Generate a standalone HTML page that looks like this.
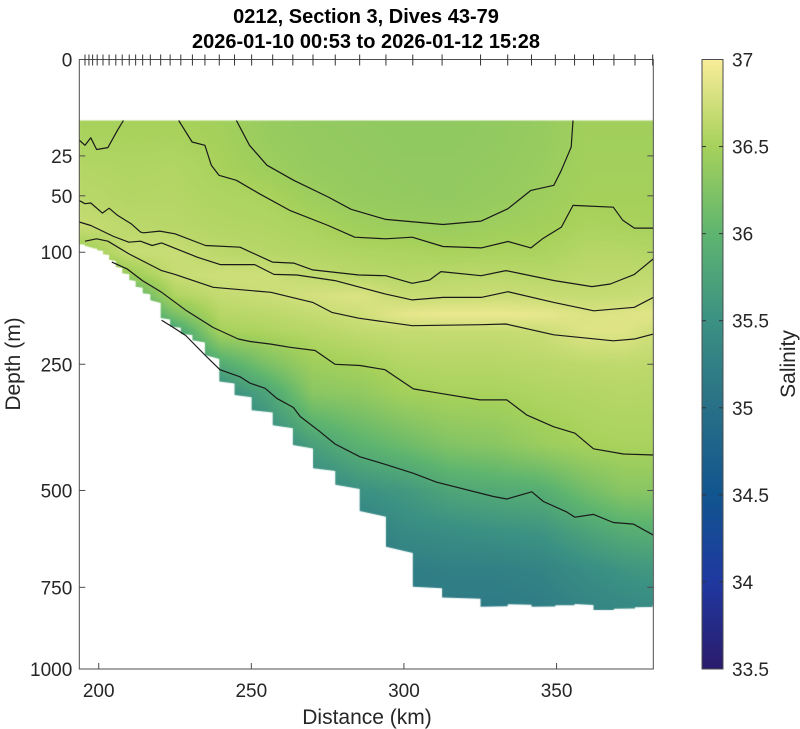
<!DOCTYPE html>
<html><head><meta charset="utf-8">
<style>
html,body{margin:0;padding:0;background:#fff;}
#wrap{position:relative;width:800px;height:729px;overflow:hidden;font-family:"Liberation Sans",sans-serif;}
canvas,svg{position:absolute;left:0;top:0;}
</style></head>
<body>
<div id="wrap">
<canvas id="field" width="800" height="729"></canvas>
<svg id="svg" width="800" height="729" xmlns="http://www.w3.org/2000/svg"></svg>
</div>
<script>
// ---- data ----
const diveKm = [195.5,196.8,198.0,199.5,201.4,203.4,205.6,207.7,210.0,212.1,214.4,216.9,220.3,223.4,226.9,230.7,234.8,239.5,244.5,250.1,257.0,263.6,270.2,277.5,285.5,294.1,302.9,312.5,325.1,334.0,341.8,349.6,355.9,362.1,368.8,375.7,381.5];
const diveBottom = [94,95,96,98,102,108,116,123,131,139,147,156,180,192,203,212,235,279,303,331,360,400,450,487,549,639,748,779,806,799,806,802,798,816,812,808,800];
const gridKm = [193.6,210,225,240,255,270,285,300,315,330,345,360,372,381.7];
const gridDepth = [10,30,50,75,100,125,150,175,200,250,300,400,500,600,700,820];
const salinity = [
 [36.50,36.58,36.62,36.71,36.40,36.00,35.60,35.40,35.30,35.20,35.10,35.10,35.10,35.10,35.10,35.10],
 [36.50,36.56,36.58,36.63,36.71,36.42,35.90,35.60,35.40,35.25,35.15,35.10,35.10,35.10,35.10,35.10],
 [36.50,36.57,36.59,36.61,36.71,36.70,36.56,36.20,35.70,35.35,35.20,35.10,35.10,35.10,35.10,35.10],
 [36.48,36.51,36.55,36.58,36.63,36.74,36.68,36.60,36.50,35.85,35.40,35.20,35.10,35.10,35.10,35.10],
 [36.40,36.44,36.53,36.57,36.60,36.74,36.72,36.63,36.55,36.20,35.75,35.30,35.20,35.10,35.10,35.10],
 [36.37,36.39,36.44,36.53,36.58,36.66,36.78,36.68,36.60,36.45,36.30,35.70,35.30,35.20,35.15,35.10],
 [36.36,36.37,36.39,36.46,36.56,36.62,36.82,36.74,36.66,36.50,36.35,35.95,35.50,35.20,35.15,35.10],
 [36.35,36.36,36.37,36.43,36.54,36.60,36.70,36.88,36.68,36.58,36.48,36.10,35.60,35.40,35.20,35.15],
 [36.35,36.36,36.36,36.42,36.52,36.62,36.70,36.92,36.68,36.60,36.52,36.25,35.78,35.45,35.25,35.15],
 [36.36,36.37,36.39,36.45,36.53,36.63,36.72,36.92,36.68,36.60,36.52,36.30,35.85,35.50,35.25,35.15],
 [36.39,36.41,36.44,36.48,36.53,36.61,36.70,36.90,36.71,36.62,36.56,36.42,35.90,35.55,35.30,35.20],
 [36.47,36.48,36.49,36.53,36.60,36.64,36.68,36.82,36.84,36.64,36.58,36.50,36.15,35.75,35.45,35.30],
 [36.47,36.48,36.49,36.52,36.60,36.64,36.70,36.84,36.84,36.65,36.60,36.52,36.30,35.88,35.55,35.35],
 [36.47,36.48,36.49,36.51,36.58,36.66,36.72,36.86,36.74,36.64,36.59,36.52,36.30,35.92,35.60,35.40]
];
// contour lines: km and depth arrays
const cL_km = [193.6,195.5,197.4,199.3,203.0,206.2,208.1];
const cL_d  = [17.5,19.8,16.5,21.8,20.9,13.4,10];
const cA_km = [245.1,249.4,255.1,263.9,275.2,282.7,294.0,312.8,325.3,334.1,341.6,349.1,351.6,354.8,355.4];
const cA_d  = [10,19.8,30.1,39.3,50.9,60.4,68.8,73.3,70.3,59.9,46.1,42.6,33,20.6,10];
const cB_km = [226.2,230.6,234.8,236.9,239.4,245.1,252.6,262.6,275.2,283.9,294.0,302.7,312.8,325.3,334.1,341.6,345.4,351.6,355.4,368.6,371.7,375.5,381.7];
const cB_d  = [10,18.3,19.8,30.1,36.1,39.3,48.5,61.3,74.2,85,86.5,85,94.1,95.5,89.2,95.5,86.5,75.6,57.3,58.7,69.6,76.5,76.5];
const cC_km = [193.6,195.5,197.4,201.2,203.4,206.2,210.6,213.7,214.7,220.0,225.0,235.0,246.3,256.9,263.9,270.1,285.2,294.0,302.7,308.4,312.1,325.3,333.4,349.3,361.6,367.6,375.5,381.7];
const cC_d  = [53.5,56,55.4,63.5,59.5,65.4,72.6,80.2,80.8,79.3,81.8,93.1,94.8,110.5,111.6,119.2,125,125.8,134.8,130.9,121.1,125.8,120,131.6,138.8,135.7,124.3,107];
const cD_km = [193.6,197.4,204.9,209.9,213.7,217.5,220.6,232.4,239.8,251.1,257.4,264.9,277.4,294.0,302.7,312.8,325.3,334.1,349.1,362.2,375.5,381.7];
const cD_d  = [71.1,74.2,84.3,89.9,88.9,93.1,90.5,105.3,113.2,113.2,124.3,125,131.6,148.2,155.6,152.3,152.3,145.1,158.8,170,165.3,152.3];
const cE_km = [195.5,199.3,203.0,209.9,220.6,225.0,237.5,256.4,270.1,276.4,285.2,302.7,325.3,333.4,349.1,368.6,375.5,381.7];
const cE_d  = [88.9,86.5,88.9,101.7,120,124.3,139.7,145.9,158.8,172.1,180.1,190.8,189.3,188.3,204,213,210.3,203];
const cF_km = [204.3,209.3,214.3,220.6,228.8,237.5,245.7,249.6,256.4,262.7,270.9,277.4,285.6,293.8,303.1,311.8,324.9,333.7,340.2,349.0,356.0,362.1,371.9,381.7];
const cF_d  = [110.5,118,131.6,145.9,170,193.3,210.3,214,218.1,223,228,250,252,259,292,300,312,312,340,363,376,408,419,421];
const cH_km = [220.6,224.0,228.5,234.8,239.7,246.3,249.6,254.5,258.3,263.8,266.0,272.5,277.4,285.6,293.8,303.1,310.7,329.3,333.7,341.9,345.7,353.3,356.0,362.1,368.6,375.2,381.7];
const cH_d  = [183,192,205,235,259,271,282,291,309,326,343,373,398,425,441,461,481,514,520,503,526,551,564,557,577,581,609];
const depthTicks = [0,25,50,100,250,500,750,1000];
const kmTicks = [200,250,300,350];
const cbTicks = [33.5,34,34.5,35,35.5,36,36.5,37];
const cmapVals = [33.5,34,34.5,35,35.5,36,36.5,37];
const cmapCols = ["#2a1b6b","#1f38a0","#11558f","#287087","#3b9183","#5eb56f","#a6d15b","#f9ed9a"];

// ---- scales ----
const X0=79.3, X1=653.3, K0=193.64, K1=381.7, Y0=59.5, Y1=669;
const sx = k => X0+(k-K0)*(X1-X0)/(K1-K0);
const sy = d => Y0+Math.sqrt(Math.max(d,0)/1000)*(Y1-Y0);
const CB_X=702, CB_W=21, CB_T=59.5, CB_B=669;
const cy = v => CB_B-(v-33.5)/(37-33.5)*(CB_B-CB_T);

function hex(h){return [1,3,5].map(i=>parseInt(h.substr(i,2),16));}
const cmapRgb = cmapCols.map(hex);
function color(v){
  if(v<=cmapVals[0]) return cmapRgb[0];
  const n=cmapVals.length;
  if(v>=cmapVals[n-1]) return cmapRgb[n-1];
  let i=0; while(v>cmapVals[i+1]) i++;
  const t=(v-cmapVals[i])/(cmapVals[i+1]-cmapVals[i]);
  return cmapRgb[i].map((c,j)=>c+(cmapRgb[i+1][j]-c)*t);
}
function findIdx(arr,v){
  if(v<=arr[0]) return [0,0];
  if(v>=arr[arr.length-1]) return [arr.length-2,1];
  let i=0; while(v>arr[i+1]) i++;
  return [i,(v-arr[i])/(arr[i+1]-arr[i])];
}
function sal(k,d){
  const [i,tx]=findIdx(gridKm,k), [j,ty]=findIdx(gridDepth,d);
  const a=salinity[i][j], b=salinity[i+1][j], c=salinity[i][j+1], e=salinity[i+1][j+1];
  return (a*(1-tx)+b*tx)*(1-ty)+(c*(1-tx)+e*tx)*ty;
}

// ---- bottom mask polygon ----
function maskPts(){
  const pts=[[sx(K0),sy(10)],[sx(K1),sy(10)]];
  const fwd=[[sx(K0),sy(92)]];
  for(let i=0;i<diveKm.length;i++){
    const prev = i===0?92:diveBottom[i-1];
    const a = prev+(diveBottom[i]-prev)*0.15;
    fwd.push([sx(diveKm[i]),sy(a)]);
    fwd.push([sx(diveKm[i]),sy(diveBottom[i])]);
  }
  fwd.push([sx(K1),sy(diveBottom[diveBottom.length-1])]);
  return pts.concat(fwd.reverse());
}

// ---- draw field ----
const cv=document.getElementById('field'), ctx=cv.getContext('2d');
const mp=maskPts();
ctx.save();
ctx.beginPath(); mp.forEach((p,i)=>i?ctx.lineTo(p[0],p[1]):ctx.moveTo(p[0],p[1])); ctx.closePath(); ctx.clip();
const img=ctx.createImageData(800,729);
for(let py=Math.floor(sy(10));py<=Y1;py++){
  const d=Math.pow((py+0.5-Y0)/(Y1-Y0),2)*1000;
  for(let px=Math.floor(X0);px<=X1;px++){
    const k=K0+(px+0.5-X0)*(K1-K0)/(X1-X0);
    const c=color(sal(k,d)); const o=(py*800+px)*4;
    img.data[o]=c[0];img.data[o+1]=c[1];img.data[o+2]=c[2];img.data[o+3]=255;
  }
}
const tmp=document.createElement('canvas'); tmp.width=800; tmp.height=729;
tmp.getContext('2d').putImageData(img,0,0);
ctx.drawImage(tmp,0,0);
ctx.restore();

// ---- SVG ----
const NS='http://www.w3.org/2000/svg', svg=document.getElementById('svg');
function mk(tag,attrs,parent){const e=document.createElementNS(NS,tag);for(const k in attrs)e.setAttribute(k,attrs[k]);(parent||svg).appendChild(e);return e;}
function txt(s,attrs,parent){const e=mk('text',attrs,parent);e.textContent=s;return e;}

const defs=mk('defs',{});
const cp=mk('clipPath',{id:'plotclip'},defs);
mk('rect',{x:X0,y:Y0,width:X1-X0,height:Y1-Y0},cp);
const grad=mk('linearGradient',{id:'cbgrad',x1:0,y1:1,x2:0,y2:0},defs);
cmapVals.forEach((v,i)=>mk('stop',{offset:(v-33.5)/3.5,'stop-color':cmapCols[i]},grad));

// contours
const cg=mk('g',{'clip-path':'url(#plotclip)'});


const contours=[['contour-line-l',cL_km,cL_d],['contour-line-a',cA_km,cA_d],['contour-line-b',cB_km,cB_d],['contour-line-c',cC_km,cC_d],['contour-line-d',cD_km,cD_d],['contour-line-e',cE_km,cE_d],['contour-line-f',cF_km,cF_d],['contour-line-h',cH_km,cH_d]];
contours.forEach(([name,ks,ds])=>{
  const pl=mk('polyline',{points:ks.map((k,i)=>sx(k).toFixed(1)+','+sy(ds[i]).toFixed(1)).join(' '),fill:'none',stroke:'#1a1a1a','stroke-width':1.2,'stroke-linejoin':'round'},cg);
  
  
});

// axes box
const ax='#4d4d4d';
const box=mk('rect',{x:X0,y:Y0,width:X1-X0,height:Y1-Y0,fill:'none',stroke:ax,'stroke-width':1});



// y ticks
depthTicks.forEach(d=>{
  const y=sy(d);
  if(d>0&&d<1000){mk('line',{x1:X0,y1:y,x2:X0+6,y2:y,stroke:ax});mk('line',{x1:X1,y1:y,x2:X1-6,y2:y,stroke:ax});}
  const t=txt(String(d),{x:X0-7,y:y+7,'text-anchor':'end','font-size':19,fill:'#262626'});
  
  
});
// x ticks
kmTicks.forEach(k=>{
  const x=sx(k);
  mk('line',{x1:x,y1:Y1,x2:x,y2:Y1-6,stroke:ax});
  const t=txt(String(k),{x:x,y:697,'text-anchor':'middle','font-size':19,fill:'#262626'});
  
  
});
// dive ticks on top
diveKm.forEach(k=>{
  const l=mk('line',{x1:sx(k),y1:Y0-5,x2:sx(k),y2:Y0+6,stroke:'#333','stroke-width':1});
  
  
});

// axis titles
let t=txt('Distance (km)',{x:367,y:724,'text-anchor':'middle','font-size':21,fill:'#262626'});

t=txt('Depth (m)',{x:0,y:0,'text-anchor':'middle','font-size':21,fill:'#262626',transform:'translate(20,364) rotate(-90)'});

t=txt('0212, Section 3, Dives 43-79',{x:366,y:23,'text-anchor':'middle','font-size':20,'font-weight':'bold',fill:'#000'});

t=txt('2026-01-10 00:53 to 2026-01-12 15:28',{x:366,y:48,'text-anchor':'middle','font-size':20,'font-weight':'bold',fill:'#000'});


// colorbar
const cb=mk('rect',{x:CB_X,y:CB_T,width:CB_W,height:CB_B-CB_T,fill:'url(#cbgrad)',stroke:ax,'stroke-width':1});

cbTicks.forEach(v=>{
  const y=cy(v);
  if(v>33.5&&v<37){mk('line',{x1:CB_X,y1:y,x2:CB_X+4,y2:y,stroke:'#333'});mk('line',{x1:CB_X+CB_W,y1:y,x2:CB_X+CB_W-4,y2:y,stroke:'#333'});}
  const tt=txt(String(v),{x:CB_X+CB_W+9,y:y+7,'font-size':19,fill:'#262626'});
  
});
t=txt('Salinity',{x:0,y:0,'text-anchor':'middle','font-size':21,fill:'#262626',transform:'translate(795,364) rotate(-90)'});

</script>
</body></html>
